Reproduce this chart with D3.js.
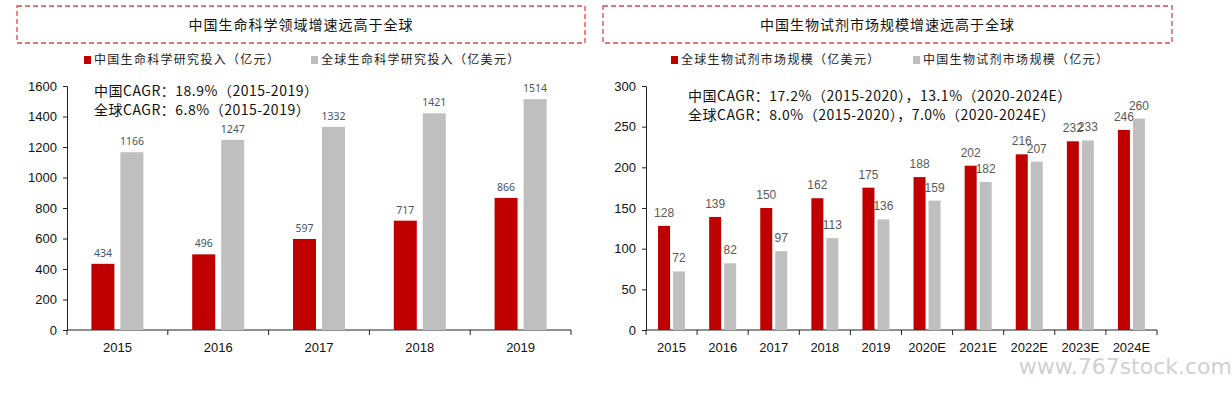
<!DOCTYPE html>
<html>
<head>
<meta charset="utf-8">
<script src="https://cdn.jsdelivr.net/npm/d3@7"></script>
<style>
  body { margin: 0; background: #fff; }
  svg { display: block; }
</style>
</head>
<body>
<script>
// Left chart data
var lsYears = ["2015", "2016", "2017", "2018", "2019"];
var lsChina = [434, 496, 597, 717, 866];
var lsGlobal = [1166, 1247, 1332, 1421, 1514];
var lsTicks = [0, 200, 400, 600, 800, 1000, 1200, 1400, 1600];

// Right chart data
var brYears = ["2015", "2016", "2017", "2018", "2019", "2020E", "2021E", "2022E", "2023E", "2024E"];
var brGlobal = [128, 139, 150, 162, 175, 188, 202, 216, 232, 246];
var brChina = [72, 82, 97, 113, 136, 159, 182, 207, 233, 260];
var brTicks = [0, 50, 100, 150, 200, 250, 300];

var RED = "#C00000", GRAY = "#BFBFBF";
var cnFont = "'Noto Sans CJK SC', sans-serif";
var numFont = "'Liberation Sans', Arial, sans-serif";

var svg = d3.select("body").append("svg")
    .attr("width", 1232)
    .attr("height", 393);

function drawPanel(cfg) {
  var g = svg.append("g");

  // dashed title box
  g.append("rect")
    .attr("x", cfg.box[0]).attr("y", 6)
    .attr("width", cfg.box[1] - cfg.box[0]).attr("height", 37)
    .attr("fill", "none")
    .attr("stroke", "#E0474C")
    .attr("stroke-width", 1.3)
    .attr("stroke-dasharray", "5,3");
  g.append("text")
    .attr("x", (cfg.box[0] + cfg.box[1]) / 2).attr("y", 25)
    .attr("dy", "0.35em")
    .attr("text-anchor", "middle")
    .style("font-family", cnFont).style("font-size", "14px")
    .style("letter-spacing", "1px")
    .attr("fill", "#111")
    .text(cfg.title);

  // legend
  cfg.legend.forEach(function(l) {
    g.append("rect").attr("x", l.x).attr("y", 56).attr("width", 7).attr("height", 8).attr("fill", l.color);
    g.append("text")
      .attr("x", l.x + 10).attr("y", 60).attr("dy", "0.35em")
      .style("font-family", cnFont).style("font-size", "12px")
      .style("letter-spacing", "1.3px")
      .attr("fill", "#222")
      .text(l.label);
  });

  var x = d3.scaleBand().domain(cfg.cats).range([cfg.x0, cfg.x1]);
  var y = d3.scaleLinear().domain([0, cfg.max]).range([330, 86]);

  // y axis
  var ya = g.append("g")
    .attr("transform", "translate(" + cfg.x0 + ",0)")
    .call(d3.axisLeft(y).tickValues(cfg.ticks).tickFormat(d3.format("d")).tickSize(4).tickPadding(6));
  ya.selectAll("text").style("font-family", numFont).style("font-size", "13px").attr("fill", "#111");
  ya.selectAll("line,path").attr("stroke", "#222");

  // x axis, ticks at band edges
  var xa = g.append("g").attr("transform", "translate(0,330)");
  xa.append("line").attr("x1", cfg.x0).attr("x2", cfg.x1).attr("stroke", "#222");
  var edges = cfg.cats.map(function(c) { return x(c); }).concat([cfg.x1]);
  xa.selectAll("line.tk").data(edges).enter().append("line")
    .attr("class", "tk")
    .attr("x1", function(d) { return d; }).attr("x2", function(d) { return d; })
    .attr("y1", 0).attr("y2", 5).attr("stroke", "#222");
  xa.selectAll("text").data(cfg.cats).enter().append("text")
    .attr("x", function(d) { return x(d) + x.bandwidth() / 2; })
    .attr("y", 17).attr("dy", "0.35em")
    .attr("text-anchor", "middle")
    .style("font-family", numFont).style("font-size", "13px")
    .attr("fill", "#111")
    .text(function(d) { return d; });

  // bars
  var bw = cfg.barW, gap = cfg.gap;
  var series = [{vals: cfg.s1, color: RED, off: -gap / 2 - bw},
                {vals: cfg.s2, color: GRAY, off: gap / 2}];
  series.forEach(function(s) {
    var bars = g.append("g");
    bars.selectAll("rect").data(cfg.cats).enter().append("rect")
      .attr("x", function(d) { return x(d) + x.bandwidth() / 2 + s.off; })
      .attr("y", function(d, i) { return y(s.vals[i]); })
      .attr("width", bw)
      .attr("height", function(d, i) { return 330 - y(s.vals[i]); })
      .attr("fill", s.color);
    bars.selectAll("text").data(cfg.cats).enter().append("text")
      .attr("x", function(d) { return x(d) + x.bandwidth() / 2 + s.off + bw / 2; })
      .attr("y", function(d, i) { return y(s.vals[i]) - cfg.labOff; })
      .attr("text-anchor", "middle")
      .style("font-family", cfg.labFont).style("font-size", cfg.labSize)
      .attr("fill", cfg.labColor)
      .text(function(d, i) { return s.vals[i]; });
  });

  // CAGR annotation
  cfg.notes.forEach(function(n, i) {
    g.append("text")
      .attr("x", cfg.noteX).attr("y", cfg.noteY + i * 19).attr("dy", "0.35em")
      .style("font-family", cnFont).style("font-size", "14px")
      .style("letter-spacing", "0.5px")
      .attr("fill", "#111")
      .text(n);
  });
}

drawPanel({
  box: [17, 585],
  title: "中国生命科学领域增速远高于全球",
  legend: [{x: 84, color: RED, label: "中国生命科学研究投入（亿元）"},
           {x: 311, color: GRAY, label: "全球生命科学研究投入（亿美元）"}],
  cats: lsYears, s1: lsChina, s2: lsGlobal, max: 1600, ticks: lsTicks,
  x0: 67, x1: 571, barW: 23, gap: 6,
  labOff: 7, labFont: "'Noto Sans', sans-serif", labSize: "10.5px", labColor: "#44546A",
  notes: ["中国CAGR：18.9%（2015-2019）", "全球CAGR：6.8%（2015-2019）"],
  noteX: 94, noteY: 91
});

drawPanel({
  box: [603, 1172],
  title: "中国生物试剂市场规模增速远高于全球",
  legend: [{x: 671, color: RED, label: "全球生物试剂市场规模（亿美元）"},
           {x: 913, color: GRAY, label: "中国生物试剂市场规模（亿元）"}],
  cats: brYears, s1: brGlobal, s2: brChina, max: 300, ticks: brTicks,
  x0: 646, x1: 1157, barW: 12, gap: 3,
  labOff: 9, labFont: numFont, labSize: "12px", labColor: "#595959",
  notes: ["中国CAGR：17.2%（2015-2020），13.1%（2020-2024E）", "全球CAGR：8.0%（2015-2020），7.0%（2020-2024E）"],
  noteX: 688, noteY: 96
});

// watermark
svg.append("text")
  .attr("x", 1232).attr("y", 374)
  .attr("text-anchor", "end")
  .style("font-family", "'DejaVu Sans', sans-serif").style("font-size", "22px")
  .attr("fill", "#D0D0D0")
  .text("www.767stock.com");
</script>
</body>
</html>
